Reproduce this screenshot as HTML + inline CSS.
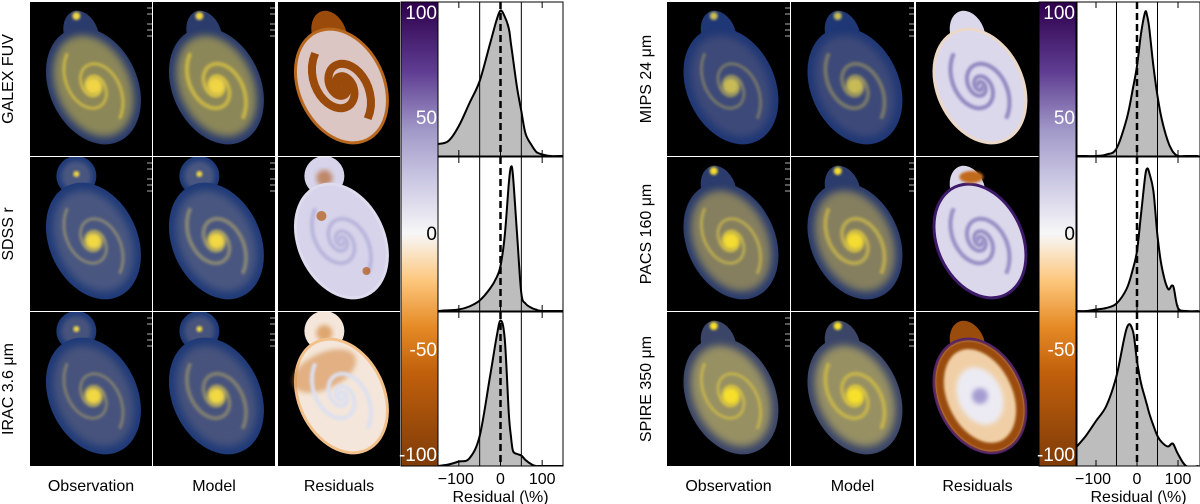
<!DOCTYPE html>
<html><head><meta charset="utf-8">
<style>
html,body{margin:0;padding:0;background:#fff;width:1200px;height:504px;overflow:hidden;font-family:"Liberation Sans","DejaVu Sans",sans-serif;}
svg{position:absolute;left:0;top:0}
</style></head>
<body>
<svg id="fig" width="1200" height="504" viewBox="0 0 1200 504">
<defs>
<filter id="b1" x="-20%" y="-20%" width="140%" height="140%"><feGaussianBlur stdDeviation="1.2"/></filter>
<filter id="b2" x="-20%" y="-20%" width="140%" height="140%"><feGaussianBlur stdDeviation="2.5"/></filter>
<filter id="b4" x="-30%" y="-30%" width="160%" height="160%"><feGaussianBlur stdDeviation="4"/></filter>
<linearGradient id="cbar" x1="0" y1="1" x2="0" y2="0">
<stop offset="0" stop-color="#7f3b08"/>
<stop offset="0.2" stop-color="#c0600c"/>
<stop offset="0.3" stop-color="#e68a26"/>
<stop offset="0.4" stop-color="#fdc77d"/>
<stop offset="0.5" stop-color="#f7f7f7"/>
<stop offset="0.62" stop-color="#c9c6e2"/>
<stop offset="0.72" stop-color="#a29bc9"/>
<stop offset="0.85" stop-color="#5f3d92"/>
<stop offset="1" stop-color="#2d004b"/>
</linearGradient>
</defs>
</svg>
<script>
// ---- histogram data (x = residual %, y = normalized density) ----
const histX = [-150,-125,-100,-75,-50,-25,-10,0,10,20,25,30,40,50,60,75,85,90,100,120,150];
const galexFuv = [0.08,0.1,0.2,0.35,0.5,0.75,0.9,0.97,0.93,0.85,0.75,0.65,0.45,0.3,0.15,0.07,0.03,0.02,0.01,0,0];
const sdssR    = [0,0.005,0.01,0.03,0.07,0.15,0.22,0.3,0.5,0.85,0.96,0.9,0.5,0.12,0.05,0.02,0.01,0.005,0,0,0];
const irac36   = [0,0.01,0.03,0.05,0.2,0.6,0.85,0.97,0.85,0.35,0.2,0.1,0.08,0.07,0.04,0.01,0,0,0,0,0];
const mips24   = [0,0,0,0.01,0.05,0.25,0.45,0.6,0.82,0.96,0.93,0.85,0.6,0.4,0.25,0.1,0.04,0.02,0,0,0];
const pacs160  = [0,0,0.01,0.02,0.05,0.15,0.28,0.4,0.65,0.9,0.95,0.92,0.8,0.5,0.3,0.15,0.17,0.15,0.02,0,0];
const spire350 = [0.12,0.2,0.3,0.4,0.6,0.92,0.9,0.7,0.55,0.45,0.4,0.35,0.27,0.2,0.16,0.13,0.15,0.14,0.08,0,0];
const histTicks = [-100,0,100];
const cbarTicks = [100,50,0,-50,-100];
const rowLabelsL = ["GALEX FUV","SDSS r","IRAC 3.6 μm"];
const rowLabelsR = ["MIPS 24 μm","PACS 160 μm","SPIRE 350 μm"];
const colLabels = ["Observation","Model","Residuals"];

const NS="http://www.w3.org/2000/svg";
const svg=document.getElementById('fig');
function el(tag,attrs,parent){const e=document.createElementNS(NS,tag);for(const k in attrs)e.setAttribute(k,attrs[k]);(parent||svg).appendChild(e);return e;}

const rowsY=[2,157,312], rowH=154;
const groups=[
 {cols:[30,153,278],pw:122,cb:[401,438],h:[438,563],labels:rowLabelsL,labelX:13,
  data:[galexFuv,sdssR,irac36],style:['fuv','sdss','irac']},
 {cols:[667,791,916],pw:123,cb:[1039,1076],h:[1077,1200],labels:rowLabelsR,labelX:651,
  data:[mips24,pacs160,spire350],style:['mips','pacs','spire']}
];

const obsStyle={
 fuv:{outer:'#2a3b6c',body:'#8c8758',arm:'#e0c840',core:'#f0d545',comp:false},
 sdss:{outer:'#1f3a78',body:'#4a5780',arm:'#a09a70',core:'#f2d842',comp:true},
 irac:{outer:'#1f3a78',body:'#46537c',arm:'#958f6c',core:'#f2d842',comp:true},
 mips:{outer:'#1f3775',body:'#3e4a78',arm:'#8e8a64',core:'#c8bb55',comp:false},
 pacs:{outer:'#2a3b6c',body:'#857f5e',arm:'#d0bc48',core:'#f5dc30',comp:false},
 spire:{outer:'#3a4568',body:'#979064',arm:'#d5c045',core:'#f8e02a',comp:false}
};
const resStyle={
 fuv:{base:'#dcc6c4',arm:'#9a4a0a',rim:'#b8681e',acc:'#b8b0d8'},
 sdss:{base:'#d6d3ea',arm:'#b9b6dc',rim:'#e0dcef',acc:'#b0560e'},
 irac:{base:'#f4e6da',arm:'#dde0f0',rim:'#f2c08a',acc:'#d07a2a'},
 mips:{base:'#dcd8ec',arm:'#9088c0',rim:'#ecd8c8',acc:'#e8a05a'},
 pacs:{base:'#dcd8eb',arm:'#968ec4',rim:'#3d1a6a',acc:'#c26a1c'},
 spire:{base:'#f0cfa6',arm:'#9a4c0c',rim:'#4a1f78',acc:'#b8b2dc'}
};

function spiralPath(cx,cy,rot,sx,sy,phase){
 let d='';
 for(let i=0;i<=60;i++){
  const t=i/60*3.4*Math.PI;
  const r=4*Math.exp(0.26*t);
  let x=r*Math.cos(t+phase), y=r*Math.sin(t+phase);
  x*=sx/60; y*=sy/60;
  const c=Math.cos(rot),s=Math.sin(rot);
  const X=cx+x*c-y*s, Y=cy+x*s+y*c;
  d+=(i?'L':'M')+X.toFixed(1)+','+Y.toFixed(1);
 }
 return d;
}
let clipN=0;
function galClip(g,cx,cy,tr){
 const id='gc'+(clipN++);
 const c=el('clipPath',{id},g);
 el('ellipse',{cx,cy,rx:40,ry:57,transform:tr},c);
 return el('g',{'clip-path':`url(#${id})`},g);
}

function drawGalaxy(g,x0,y0,w,st,kind,isModel){
 const cx=x0+w*0.52, cy=y0+84, rot=-25*Math.PI/180;
 const tr=`rotate(-25 ${cx} ${cy})`;
 if(kind==='obs'){
  const o=obsStyle[st];
  if(o.comp){
   el('circle',{cx:x0+w*0.38,cy:y0+19,r:20,fill:o.outer},g);
   el('circle',{cx:x0+w*0.38,cy:y0+19,r:15,fill:o.body,filter:'url(#b2)'},g);
   el('circle',{cx:x0+w*0.38,cy:y0+17,r:3,fill:o.core,filter:'url(#b1)'},g);
  } else {
   el('ellipse',{cx:x0+w*0.42,cy:y0+32,rx:17,ry:24,fill:o.outer,transform:`rotate(-20 ${x0+w*0.42} ${y0+32})`},g);
   el('circle',{cx:x0+w*0.38,cy:y0+14,r:4,fill:o.core,filter:'url(#b1)'},g);
  }
  el('ellipse',{cx,cy,rx:44,ry:61,fill:o.outer,transform:tr},g);
  el('ellipse',{cx,cy,rx:37,ry:53,fill:o.body,transform:tr,filter:'url(#b4)'},g);
  const cg=galClip(g,cx,cy,tr);
  const sw=isModel?4:3;
  for(const ph of [0,Math.PI]){
   el('path',{d:spiralPath(cx,cy,rot,30,40,ph),fill:'none',stroke:o.arm,'stroke-width':sw,'stroke-opacity':0.7,filter:'url(#b1)'},cg);
  }
  el('circle',{cx,cy,r:9,fill:o.core,filter:'url(#b2)'},g);
 } else {
  const r=resStyle[st];
  if(st==='sdss'||st==='irac'){
   el('circle',{cx:x0+w*0.38,cy:y0+19,r:20,fill:r.base},g);
   el('circle',{cx:x0+w*0.38,cy:y0+21,r:8,fill:r.acc,'fill-opacity':0.6,filter:'url(#b2)'},g);
  } else {
   el('ellipse',{cx:x0+w*0.42,cy:y0+32,rx:17,ry:24,fill:(st==='spire'||st==='fuv')?r.arm:r.base,transform:`rotate(-20 ${x0+w*0.42} ${y0+32})`},g);
  }
  el('ellipse',{cx,cy,rx:44,ry:61,fill:r.rim,transform:tr},g);
  el('ellipse',{cx,cy,rx:41,ry:58,fill:r.base,transform:tr},g);
  if(st==='irac') el('ellipse',{cx:cx-5,cy:cy-30,rx:34,ry:18,fill:r.acc,'fill-opacity':0.5,transform:tr,filter:'url(#b2)'},g);
  if(st==='spire'){
   el('ellipse',{cx,cy,rx:37,ry:54,fill:'none',stroke:r.arm,'stroke-width':9,transform:tr,filter:'url(#b1)'},g);
   el('ellipse',{cx,cy,rx:22,ry:30,fill:'#ecebf3',transform:tr,filter:'url(#b2)'},g);
   el('circle',{cx,cy,r:8,fill:'#a49cd0',filter:'url(#b2)'},g);
  } else {
   const cg=galClip(g,cx,cy,tr);
   for(const ph of [0,Math.PI]){
    el('path',{d:spiralPath(cx,cy,rot,30,40,ph),fill:'none',stroke:r.arm,'stroke-width':st==='fuv'?8:4,filter:st==='fuv'?'':'url(#b1)'},cg);
   }
  }
  if(st==='pacs') el('ellipse',{cx:x0+w*0.45,cy:y0+20,rx:12,ry:6,fill:r.acc,filter:'url(#b1)'},g);
  if(st==='sdss'){
   el('circle',{cx:cx-20,cy:cy-25,r:5,fill:r.acc,'fill-opacity':0.7},g);
   el('circle',{cx:cx+25,cy:cy+30,r:4,fill:r.acc,'fill-opacity':0.7},g);
  }
 }
}

function smoothPath(pts){
 let d='M'+pts[0][0]+','+pts[0][1];
 for(let i=0;i<pts.length-1;i++){
  const p0=pts[Math.max(0,i-1)],p1=pts[i],p2=pts[i+1],p3=pts[Math.min(pts.length-1,i+2)];
  const c1=[p1[0]+(p2[0]-p0[0])/6,p1[1]+(p2[1]-p0[1])/6];
  const c2=[p2[0]-(p3[0]-p1[0])/6,p2[1]-(p3[1]-p1[1])/6];
  d+=`C${c1[0].toFixed(1)},${c1[1].toFixed(1)} ${c2[0].toFixed(1)},${c2[1].toFixed(1)} ${p2[0].toFixed(1)},${p2[1].toFixed(1)}`;
 }
 return d;
}

groups.forEach((G,gi)=>{
 const gg=el('g',{});
 
 
 G.style.forEach((st,ri)=>{
  const y0=rowsY[ri];
  ['obs','obs','res'].forEach((kind,ci)=>{
   const x0=G.cols[ci];
   const pg=el('g',{},gg);
   
   
   const cp='cp'+gi+ri+ci;
   const c=el('clipPath',{id:cp},pg);el('rect',{x:x0,y:y0,width:G.pw,height:rowH},c);
   el('rect',{x:x0,y:y0,width:G.pw,height:rowH,fill:'#000'},pg);
   const inner=el('g',{'clip-path':`url(#${cp})`},pg);
   drawGalaxy(inner,x0,y0,G.pw,st,kind,ci===1);
   if(ci<2){
    for(const t of [6,12,22,28,34]) el('line',{x1:x0+G.pw-5,x2:x0+G.pw,y1:y0+t,y2:y0+t,stroke:'#ddd','stroke-width':0.8},pg);
   }
  });
  const lx=G.labelX, ly=y0+rowH/2;
  const t=el('text',{x:lx,y:ly,transform:`rotate(-90 ${lx} ${ly})`,'text-anchor':'middle','font-size':16,fill:'#000'},gg);
  t.textContent=G.labels[ri];
  
  
  const hx0=G.h[0],hx1=G.h[1];
  const xs=v=>hx0+(v+150)/300*(hx1-hx0)+(gi?-1.5:0);
  const ys=v=>y0+rowH-v*(rowH-4);
  const hg=el('g',{},gg);
  
  
  el('rect',{x:hx0,y:y0,width:hx1-hx0,height:rowH,fill:'#fff'},hg);
  const vals=G.data[ri];
  const pts=histX.map((v,i)=>[xs(v),ys(vals[i])]);
  const dcurve=smoothPath(pts);
  const hcp='hc'+gi+ri;
  const hc=el('clipPath',{id:hcp},hg);el('rect',{x:hx0,y:y0,width:hx1-hx0,height:rowH},hc);
  const ig=el('g',{'clip-path':`url(#${hcp})`},hg);
  const area=el('path',{d:dcurve+`L${xs(150)},${y0+rowH}L${xs(-150)},${y0+rowH}Z`,fill:'#bdbdbd'},ig);
  
  
  for(const v of [-50,50]) el('line',{x1:xs(v),x2:xs(v),y1:y0,y2:y0+rowH,stroke:'#000','stroke-width':1},ig);
  const cur=el('path',{d:dcurve,fill:'none',stroke:'#000','stroke-width':2},ig);
  
  
  el('line',{x1:xs(0),x2:xs(0),y1:y0,y2:y0+rowH,stroke:'#000','stroke-width':2.5,'stroke-dasharray':'7,4'},ig);
  for(const v of histTicks){
   el('line',{x1:xs(v),x2:xs(v),y1:y0,y2:y0+6,stroke:'#000','stroke-width':1},hg);
   el('line',{x1:xs(v),x2:xs(v),y1:y0+rowH-6,y2:y0+rowH,stroke:'#000','stroke-width':1},hg);
  }
  el('rect',{x:hx0,y:y0,width:hx1-hx0,height:rowH,fill:'none',stroke:'#000','stroke-width':1},hg);
 });
 const cbg=el('g',{},gg);
 
 
 const cby0=rowsY[0], cby1=rowsY[2]+rowH;
 el('rect',{x:G.cb[0],y:cby0,width:G.cb[1]-G.cb[0],height:cby1-cby0,fill:'url(#cbar)',stroke:'#000','stroke-width':1},cbg);
 const cpos=[12,117,233,349,454];
 cbarTicks.forEach((v,i)=>{
  const t=el('text',{x:G.cb[1]-1,y:cpos[i]+7,'text-anchor':'end','font-size':19,fill:v===0?'#000':'#fff'},cbg);
  t.textContent=String(v);
  
  
 });
 colLabels.forEach((s,ci)=>{
  const t=el('text',{x:G.cols[ci]+G.pw/2,y:491,'text-anchor':'middle','font-size':16,fill:'#000'},gg);
  t.textContent=s;
  
  
 });
 const hx0=G.h[0],hx1=G.h[1];
 const xs=v=>hx0+(v+150)/300*(hx1-hx0)+(gi?-1.5:0);
 histTicks.forEach(v=>{
  const t=el('text',{x:xs(v)+(v<0?-3:0),y:484,'text-anchor':'middle','font-size':16,fill:'#000'},gg);
  t.textContent=v<0?'−'+Math.abs(v):String(v);
  
  
 });
 const xt=el('text',{x:(hx0+hx1)/2,y:502,'text-anchor':'middle','font-size':16,fill:'#000'},gg);
 xt.textContent='Residual (\\%)';
 
 
});
</script>
</body></html>
